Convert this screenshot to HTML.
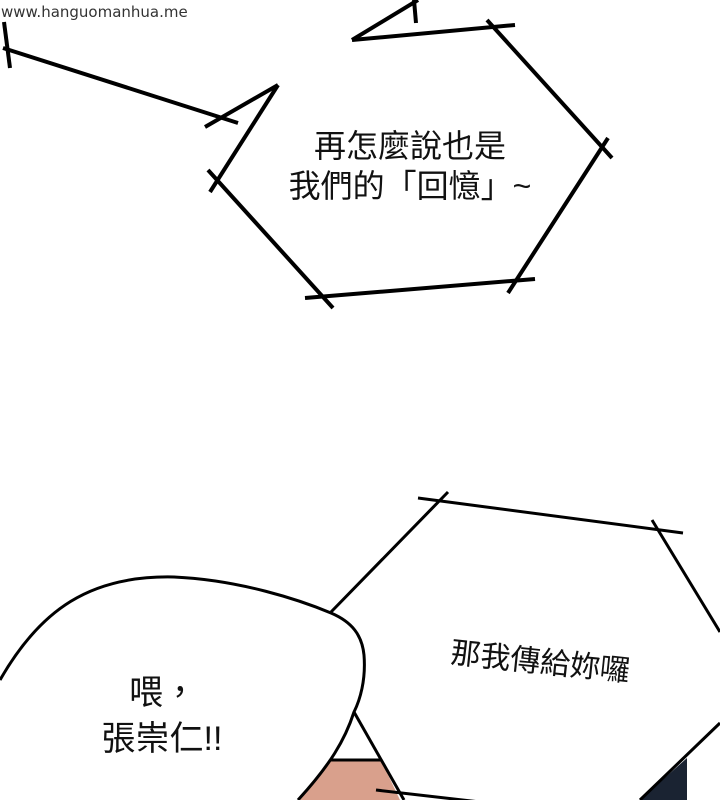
<!DOCTYPE html>
<html><head><meta charset="utf-8"><style>
html,body{margin:0;padding:0;background:#fff;width:720px;height:800px;overflow:hidden}
svg{display:block}
text{font-family:"Liberation Sans","Noto Sans CJK TC",sans-serif;fill:#111}
</style></head><body>
<svg width="720" height="800" viewBox="0 0 720 800" xmlns="http://www.w3.org/2000/svg">
<rect width="720" height="800" fill="#fff"/>
<text x="1" y="17" style="font-family:'DejaVu Sans',sans-serif;font-size:15px;fill:#333">www.hanguomanhua.me</text>
<g stroke="#000" stroke-width="4" fill="none" stroke-linecap="butt">
<line x1="4" y1="22" x2="10" y2="68"/>
<line x1="3" y1="48" x2="238" y2="123"/>
<line x1="205" y1="127" x2="278" y2="85"/>
<line x1="278" y1="85" x2="210" y2="192"/>
<line x1="208" y1="170" x2="333" y2="308"/>
<line x1="305" y1="298" x2="535" y2="279"/>
<line x1="608" y1="138" x2="508" y2="293"/>
<line x1="487" y1="20" x2="612" y2="158"/>
<line x1="352" y1="40" x2="515" y2="25"/>
<line x1="352" y1="40" x2="418" y2="0"/>
<line x1="414" y1="0" x2="416" y2="23"/>
</g>
<text x="410" y="157" text-anchor="middle" font-size="32">再怎麼說也是</text>
<text x="410" y="197" text-anchor="middle" font-size="32">我們的「回憶」~</text>
<polygon points="331,760 381,760 400,800 298,800" fill="#d9a08c"/>
<polygon points="687,758 687,800 640,800" fill="#1a2332"/>
<g stroke="#000" stroke-width="3" fill="none">
<line x1="331" y1="760" x2="381" y2="760"/>
<line x1="418" y1="498" x2="683" y2="533"/>
<line x1="448" y1="492" x2="331" y2="612"/>
<line x1="652" y1="520" x2="720" y2="632"/>
<line x1="720" y1="723" x2="640" y2="800"/>
<line x1="354" y1="712" x2="404" y2="800"/>
<line x1="376" y1="790" x2="480" y2="802"/>
</g>
<path d="M0,800 L0,680 C40,610 90,575 174,577 C240,580 300,600 331,613 C352,622 362,635 364,655 C366,680 360,700 354,712 C345,740 330,765 298,800 Z" fill="#fff"/>
<path d="M0,680 C40,610 90,575 174,577 C240,580 300,600 331,613 C352,622 362,635 364,655 C366,680 360,700 354,712 C345,740 330,765 298,800" fill="none" stroke="#000" stroke-width="3"/>
<text x="163" y="704" text-anchor="middle" font-size="34">喂，</text>
<text x="162" y="750" text-anchor="middle" font-size="34">張崇仁!!</text>
<text x="540" y="672" text-anchor="middle" font-size="30" transform="rotate(6 540 665)">那我傳給妳囉</text>
</svg>
</body></html>
